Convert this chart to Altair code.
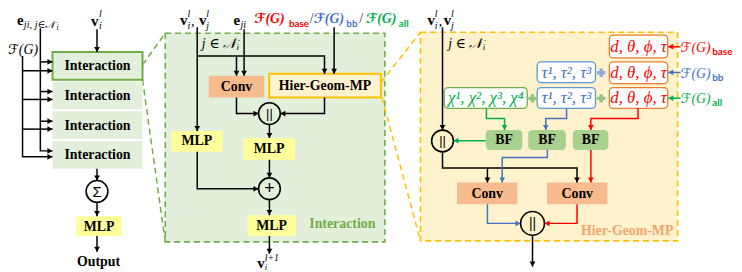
import math
import altair as alt
import pandas as pd

# ---------------- canvas (1 data unit = 1 reference pixel) ----------------
W, H = 734, 264
XDOM = [8, 742]
YDOM = [8, 272]
XS = alt.Scale(domain=XDOM, nice=False, zero=False)
YS = alt.Scale(domain=YDOM, nice=False, zero=False, reverse=True)

# ---------------- palette ----------------
K = "#000000"; RED = "#ff0000"; BLUE = "#4472c4"; GREEN = "#00b050"
LGREEN = "#e2efda"; DGREEN = "#70ad47"; YEL = "#ffff99"; SALMON = "#f8bb8e"
CREAM = "#fff2cc"; GOLD = "#ffc000"; ORANGE = "#ed7d31"; BFG = "#a9d18e"
LBLUE = "#5b9bd5"; HGM = "#f4a46c"

SERIF = "Liberation Serif, DejaVu Serif, serif"
MATH = "Liberation Serif, DejaVu Serif, DejaVu Sans, serif"
SANS = "Lato, Open Sans, sans-serif"

# ---------------- diagram content ----------------
# dashed panels: x1, x2, y1, y2, fill, stroke
panel_boxes = [
    (167, 389, 32, 243, LGREEN, DGREEN),
    (425, 685, 31, 242, CREAM, GOLD),
]
# dashed zoom connectors: id, colour, points
connectors = [
    ("g1", DGREEN, [(144, 64), (167, 32)]),
    ("g2", DGREEN, [(144, 79), (167, 243)]),
    ("o1", GOLD, [(385, 82), (425, 31)]),
    ("o2", GOLD, [(386, 97), (425, 242)]),
]
# plain filled blocks
plain_boxes = [
    (53, 144, 81, 109, LGREEN), (53, 144, 111, 139, LGREEN), (53, 144, 141, 169, LGREEN),
    (77, 123, 217, 237, YEL), (173, 225, 131, 152, YEL), (246, 298, 138, 160, YEL),
    (250, 299, 216, 237, YEL),
    (211, 267, 75, 97, SALMON), (462, 523, 183, 205, SALMON), (553, 614, 183, 205, SALMON),
]
bf_boxes = [(491, 528, 130, 150, BFG), (534, 572, 130, 150, BFG), (579, 615, 130, 150, BFG)]
# outlined blocks: x1,x2,y1,y2,fill,stroke
outlined_boxes = [
    (53, 144, 51, 79, LGREEN, DGREEN),
    (272, 385, 73, 97, CREAM, GOLD),
]
feature_boxes = [
    (616, 675, 34, 57, "#ffffff", ORANGE), (616, 675, 61, 83, "#ffffff", ORANGE),
    (616, 675, 87, 108, "#ffffff", ORANGE),
    (543, 602, 61, 82, "#ffffff", LBLUE), (543, 602, 87, 108, "#ffffff", LBLUE),
    (449, 533, 87, 108, "#ffffff", DGREEN),
]
# wires: id, colour, points (arrow at last point)
wires = [
    ("eL", K, [(40.7, 27), (40.7, 151), (53, 151)]),
    ("eB1", K, [(40.7, 61), (53, 61)]),
    ("eB2", K, [(40.7, 91), (53, 91)]),
    ("eB3", K, [(40.7, 121), (53, 121)]),
    ("fL", K, [(22.7, 55), (22.7, 157), (53, 157)]),
    ("fB1", K, [(22.7, 70), (53, 70)]),
    ("fB2", K, [(22.7, 99), (53, 99)]),
    ("fB3", K, [(22.7, 129), (53, 129)]),
    ("vL", K, [(98, 28), (98, 51)]),
    ("s1", K, [(98, 169), (98, 181)]),
    ("s2", K, [(98, 203), (98, 217)]),
    ("s3", K, [(98, 237), (98, 253)]),
    ("mv", K, [(199.3, 26), (199.3, 131)]),
    ("mb", K, [(199.3, 55), (328, 55), (328, 73)]),
    ("mb2", K, [(239, 55), (239, 75)]),
    ("me", K, [(246.7, 28), (246.7, 75)]),
    ("mf", K, [(337.7, 26), (337.7, 73)]),
    ("mc", K, [(239, 97), (239, 113.3), (261.3, 113.3)]),
    ("mh", K, [(328, 97), (328, 113.3), (283.3, 113.3)]),
    ("m7", K, [(272.3, 124.3), (272.3, 138)]),
    ("m8", K, [(199.3, 152), (199.3, 189.3), (261.3, 189.3)]),
    ("m9", K, [(272.3, 160), (272.3, 178.3)]),
    ("m10", K, [(272.3, 200.3), (272.3, 216)]),
    ("m11", K, [(272.3, 237), (272.3, 255)]),
    ("rv", K, [(447.3, 26), (447.3, 130)]),
    ("ra", RED, [(688, 45.7), (675.5, 45.7)]),
    ("rb", BLUE, [(688, 71.7), (675.5, 71.7)]),
    ("rc", GREEN, [(688, 97.7), (675.5, 97.7)]),
    ("r3", GREEN, [(491.7, 108), (491.7, 118.3), (510, 118.3), (510, 130)]),
    ("r4", BLUE, [(572.7, 108), (572.7, 118.3), (551.7, 118.3), (551.7, 130)]),
    ("r5", RED, [(645, 108), (645, 118.3), (597.3, 118.3), (597.3, 130)]),
    ("r6", GREEN, [(491, 140.7), (458.3, 140.7)]),
    ("r7", K, [(447.3, 152), (447.3, 168.3), (583.3, 168.3), (583.3, 183)]),
    ("r7b", K, [(492.7, 168.3), (492.7, 183)]),
    ("r8", BLUE, [(553.3, 150), (553.3, 157.7), (507.7, 157.7), (507.7, 183)]),
    ("r9", RED, [(597.3, 150), (597.3, 183)]),
    ("r10", BLUE, [(492.7, 205), (492.7, 224.3), (526.3, 224.3)]),
    ("r11", RED, [(583.3, 205), (583.3, 224.3), (550.3, 224.3)]),
    ("r12", K, [(538.3, 236.3), (538.3, 268)]),
]
# operator circles: x, y, radius
circles = [(98, 192, 11), (272.3, 113.3, 11), (272.3, 189.3, 11), (447.3, 141, 11), (538.3, 224.3, 12)]
# plus joints: x, y, colour
pluses = [(538.3, 98, "#93c47d"), (607.7, 98, "#93c47d"), (607.7, 72, "#8faadc")]

# texts: text, x, y, size, colour  (grouped by typographic style)
labels_bold = [
    ("Interaction", 98.5, 65.5, 14, K), ("Interaction", 98.5, 95.5, 14, K),
    ("Interaction", 98.5, 125.5, 14, K), ("Interaction", 98.5, 155.5, 14, K),
    ("MLP", 100, 227.5, 14, K), ("Output", 99.5, 263, 14, K),
    ("MLP", 199, 141.5, 14, K), ("MLP", 272, 149.5, 14, K), ("MLP", 274.5, 227, 14, K),
    ("Conv", 239, 86.5, 14, K), ("Hier-Geom-MP", 328.5, 85.5, 14, K),
    ("Interaction", 346, 225, 14, DGREEN),
    ("BF", 509.5, 140.5, 14, K), ("BF", 553, 140.5, 14, K), ("BF", 597, 140.5, 14, K),
    ("Conv", 492.5, 194.5, 14, K), ("Conv", 583.5, 194.5, 14, K),
    ("Hier-Geom-MP", 634, 232, 14, HGM),
]
math_bold = [
    ("e", 17, 23.5, 15, K), ("v", 92, 24.5, 15, K),
    ("v", 182, 23.5, 15, K), ("v", 201, 23.5, 15, K), ("e", 236, 23.5, 15, K),
    ("v", 432, 23.5, 15, K), ("v", 448.5, 23.5, 15, K),
    ("v", 260, 269.5, 15, K),
]
math_italic = [
    ("ji, j∈𝒩", 24, 27, 10.5, K), ("i", 57, 28.5, 8, K),
    ("l", 100, 16, 10, K), ("i", 100, 28, 10, K),
    ("ℱ(G)", 8, 53, 14, K),
    ("i", 189.5, 27.5, 10, K), ("l", 189.5, 15.5, 10, K),
    ("j", 208.5, 27.5, 10, K), ("l", 208.5, 15.5, 10, K),
    ("ji", 243, 27, 10, K),
    ("j ∈ 𝒩", 204, 47, 14, K), ("i", 239, 49.5, 9, K),
    ("i", 439.5, 27.5, 10, K), ("l", 439.5, 15.5, 10, K),
    ("j", 456, 27.5, 10, K), ("l", 456, 15.5, 10, K),
    ("j ∈ 𝒩", 453, 47, 14, K), ("i", 488, 49.5, 9, K),
    ("ℱ(G)", 688, 51, 14, RED), ("ℱ(G)", 688, 77, 14, BLUE), ("ℱ(G)", 688, 103, 14, GREEN),
    ("l+1", 267.5, 262.5, 10, K), ("i", 267.5, 271.5, 9, K),
]
math_bold_italic = [
    ("ℱ(G)", 257, 21.5, 14, RED), ("ℱ(G)", 317, 21.5, 14, BLUE), ("ℱ(G)", 370, 21.5, 14, GREEN),
]
plain_serif = [
    (",", 193, 24.5, 14, K), (",", 443.5, 24.5, 14, K),
    ("/", 313, 21.5, 14, "#333333"), ("/", 363, 21.5, 14, "#333333"),
]
sub_sans = [
    ("base", 292, 25.5, 10, RED), ("bb", 350, 25.5, 10, BLUE), ("all", 403, 25.5, 10, GREEN),
    ("base", 720, 54, 10, RED), ("bb", 720, 80, 10, BLUE), ("all", 720, 106, 10, GREEN),
]
feature_text = [
    ("d, θ, ϕ, τ", 645.5, 46, 17, RED), ("d, θ, ϕ, τ", 645.5, 72.5, 17, RED),
    ("d, θ, ϕ, τ", 645.5, 98, 17, RED),
    ("τ¹, τ², τ³", 572.5, 72, 17, BLUE), ("τ¹, τ², τ³", 572.5, 98, 17, BLUE),
    ("χ¹, χ², χ³, χ⁴", 491, 98, 17, GREEN),
]
operator_text = [
    ("Σ", 98, 192.5, 15, K), ("||", 272.3, 113.5, 13, K), ("+", 272.3, 189.5, 18, K),
    ("||", 447.3, 141.2, 13, K), ("||", 538.3, 224.5, 14, K),
]

# ---------------- helpers ----------------
def X(f):
    return alt.X(f, type="quantitative", scale=XS, axis=None)

def Y(f):
    return alt.Y(f, type="quantitative", scale=YS, axis=None)

def rect_layer(rows, stroked, **mark):
    cols = ["x1", "x2", "y1", "y2", "fill"] + (["stroke"] if stroked else [])
    df = pd.DataFrame(rows, columns=cols)
    enc = dict(x=X("x1"), x2=alt.X2("x2"), y=Y("y1"), y2=alt.Y2("y2"),
               fill=alt.Fill("fill:N", scale=None))
    if stroked:
        enc["stroke"] = alt.Stroke("stroke:N", scale=None)
    return alt.Chart(df).mark_rect(**mark).encode(**enc)

def path_layer(paths, **mark):
    rows = []
    for pid, col, pts in paths:
        for i, (px, py) in enumerate(pts):
            rows.append(dict(pid=pid, seq=i, x=px, y=py, col=col))
    df = pd.DataFrame(rows)
    return alt.Chart(df).mark_line(**mark).encode(
        x=X("x"), y=Y("y"), detail="pid:N", order="seq:Q",
        color=alt.Color("col:N", scale=None))

def head_layer(paths):
    rows = []
    for pid, col, pts in paths:
        (px, py), (ex, ey) = pts[-2], pts[-1]
        dx, dy = ex - px, ey - py
        ln = math.hypot(dx, dy)
        ux, uy = dx / ln, dy / ln
        ang = math.degrees(math.atan2(ux, -uy)) % 360
        rows.append(dict(x=ex - ux * 2.6, y=ey - uy * 2.6, ang=ang, col=col))
    df = pd.DataFrame(rows)
    return alt.Chart(df).mark_point(shape="triangle-up", filled=True, size=34, opacity=1,
                                    strokeWidth=0).encode(
        x=X("x"), y=Y("y"), angle=alt.Angle("ang:Q", scale=None),
        color=alt.Color("col:N", scale=None))

def text_layer(rows, **mark):
    df = pd.DataFrame(rows, columns=["t", "x", "y", "s", "col"])
    return alt.Chart(df).mark_text(**mark).encode(
        x=X("x"), y=Y("y"), text="t:N", size=alt.Size("s:Q", scale=None),
        color=alt.Color("col:N", scale=None))

# ---------------- layers ----------------
layers = [
    rect_layer(panel_boxes, True, strokeDash=[6, 4], strokeWidth=1.6),
    path_layer(connectors, strokeWidth=1.5, strokeDash=[6, 4]),
    rect_layer(plain_boxes, False),
    rect_layer(bf_boxes, False, cornerRadius=4),
    rect_layer(outlined_boxes, True, strokeWidth=2),
    rect_layer(feature_boxes, True, strokeWidth=1.3, cornerRadius=4),
    path_layer(wires, strokeWidth=1.5),
    head_layer(wires),
    alt.Chart(pd.DataFrame(circles, columns=["x", "y", "r"])).transform_calculate(
        sz="pow(2*datum.r, 2)").mark_point(
        shape="circle", filled=False, stroke=K, strokeWidth=1.6, opacity=1).encode(
        x=X("x"), y=Y("y"), size=alt.Size("sz:Q", scale=None)),
    alt.Chart(pd.DataFrame(pluses, columns=["x", "y", "col"])).mark_point(
        shape="cross", filled=True, size=70, opacity=1).encode(
        x=X("x"), y=Y("y"), color=alt.Color("col:N", scale=None)),
    text_layer(labels_bold, font=SERIF, fontWeight="bold", align="center", baseline="middle"),
    text_layer(math_bold, font=SERIF, fontWeight="bold", align="left", baseline="alphabetic"),
    text_layer(math_italic, font=MATH, fontStyle="italic", align="left", baseline="alphabetic"),
    text_layer(math_bold_italic, font=MATH, fontStyle="italic", fontWeight="bold",
               align="left", baseline="alphabetic"),
    text_layer(plain_serif, font=SERIF, align="left", baseline="alphabetic"),
    text_layer(sub_sans, font=SANS, fontWeight="bold", align="left", baseline="alphabetic"),
    text_layer(feature_text, font=MATH, fontStyle="italic", align="center", baseline="middle"),
    text_layer(operator_text, font="Liberation Sans, DejaVu Sans, sans-serif",
               align="center", baseline="middle"),
]

chart = alt.layer(*layers).properties(
    width=W, height=H, padding=0, autosize=alt.AutoSizeParams(type="none")
).configure_view(strokeWidth=0)

chart.save("out.html", embed_options={"renderer": "svg", "actions": False})
